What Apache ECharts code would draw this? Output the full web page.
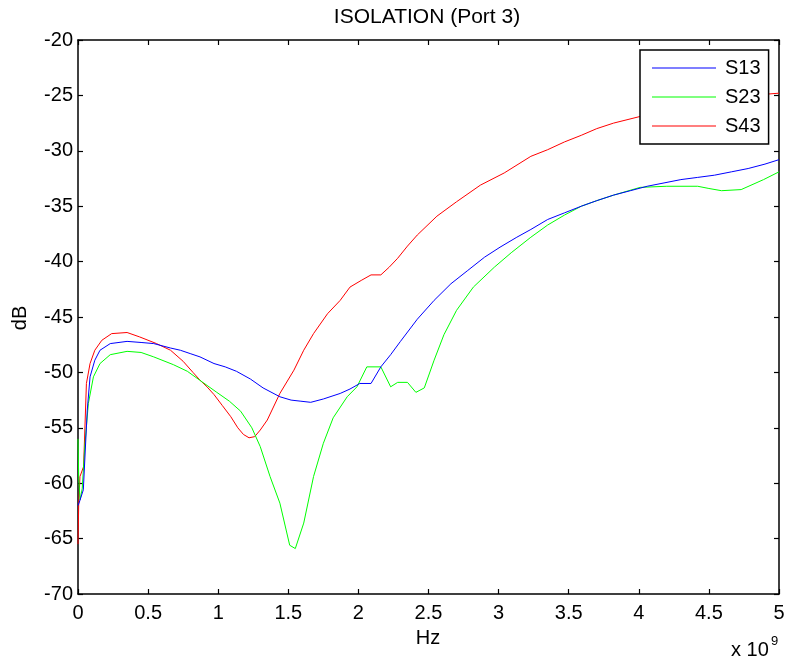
<!DOCTYPE html>
<html>
<head>
<meta charset="utf-8">
<script src="https://cdn.jsdelivr.net/npm/echarts@6/dist/echarts.min.js"></script>
<style>
html,body{margin:0;padding:0;background:#fff;}
#chart{width:791px;height:664px;}
</style>
</head>
<body>
<div id="chart"></div>
<script>
// Frequency in GHz (axis shows x 10^9 Hz), values in dB
const xTicks = [0, 0.5, 1, 1.5, 2, 2.5, 3, 3.5, 4, 4.5, 5];
const yTicks = [-70, -65, -60, -55, -50, -45, -40, -35, -30, -25, -20];

const fS13 = [0, 0.01, 0.038, 0.066, 0.086, 0.12, 0.157, 0.23, 0.35, 0.45, 0.54, 0.66, 0.73, 0.8, 0.87, 0.97, 1.05, 1.13, 1.23, 1.32, 1.44, 1.52, 1.59, 1.66, 1.75, 1.87, 1.94, 2.01, 2.09, 2.10, 2.16, 2.23, 2.3, 2.42, 2.54, 2.66, 2.78, 2.9, 3.01, 3.13, 3.23, 3.35, 3.47, 3.59, 3.7, 3.82, 3.94, 4.06, 4.18, 4.3, 4.42, 4.54, 4.66, 4.78, 4.9, 5.0];
const vS13 = [-62, -61.7, -60.6, -53.4, -50.4, -48.9, -48.0, -47.4, -47.2, -47.3, -47.4, -47.8, -48.0, -48.3, -48.6, -49.2, -49.5, -49.9, -50.6, -51.4, -52.2, -52.5, -52.6, -52.7, -52.4, -51.9, -51.5, -51.0, -51.0, -51.1, -49.5, -48.4, -47.2, -45.2, -43.5, -42.0, -40.8, -39.6, -38.7, -37.8, -37.1, -36.2, -35.6, -35.0, -34.5, -34.0, -33.6, -33.2, -32.9, -32.6, -32.4, -32.2, -31.9, -31.6, -31.2, -30.8];

const fS23 = [0, 0.005, 0.015, 0.03, 0.05, 0.074, 0.11, 0.157, 0.23, 0.35, 0.45, 0.54, 0.68, 0.78, 0.89, 0.99, 1.08, 1.16, 1.24, 1.3, 1.37, 1.44, 1.51, 1.55, 1.61, 1.68, 1.75, 1.82, 1.92, 1.99, 2.06, 2.16, 2.23, 2.28, 2.35, 2.41, 2.47, 2.54, 2.61, 2.7, 2.82, 2.97, 3.09, 3.23, 3.35, 3.47, 3.59, 3.7, 3.82, 4.01, 4.2, 4.42, 4.5, 4.59, 4.73, 4.89, 5.0];
const vS23 = [-56, -59.5, -61.5, -60.5, -56.4, -52.8, -50.4, -49.2, -48.4, -48.1, -48.2, -48.6, -49.3, -49.9, -50.9, -51.8, -52.6, -53.5, -55.0, -56.7, -59.4, -61.8, -65.6, -65.9, -63.6, -59.4, -56.4, -54.1, -52.2, -51.3, -49.5, -49.5, -51.3, -50.9, -50.9, -51.8, -51.4, -48.9, -46.6, -44.4, -42.3, -40.5, -39.2, -37.8, -36.7, -35.8, -35.0, -34.5, -34.0, -33.3, -33.2, -33.2, -33.4, -33.6, -33.5, -32.6, -31.9];

const fS43 = [0, 0.005, 0.014, 0.04, 0.06, 0.086, 0.12, 0.17, 0.24, 0.35, 0.44, 0.56, 0.66, 0.75, 0.82, 0.87, 0.92, 0.97, 1.03, 1.09, 1.14, 1.18, 1.22, 1.26, 1.3, 1.35, 1.44, 1.54, 1.61, 1.68, 1.78, 1.87, 1.94, 2.02, 2.09, 2.16, 2.22, 2.28, 2.35, 2.42, 2.56, 2.7, 2.87, 3.04, 3.23, 3.35, 3.47, 3.59, 3.7, 3.82, 4.01, 4.2, 4.5, 4.8, 5.0];
const vS43 = [-65.5, -62, -59.4, -58.5, -51.0, -49.2, -48.0, -47.1, -46.5, -46.4, -46.8, -47.4, -48.0, -49.0, -50.0, -50.7, -51.3, -52.0, -53.0, -54.0, -55.0, -55.6, -55.9, -55.8, -55.2, -54.3, -51.9, -49.8, -48.0, -46.5, -44.7, -43.5, -42.3, -41.7, -41.2, -41.2, -40.5, -39.7, -38.6, -37.6, -35.9, -34.6, -33.1, -32.0, -30.5, -29.9, -29.2, -28.6, -28.0, -27.5, -26.9, -26.3, -25.6, -25.0, -24.8];

const seriesNames = ['S13', 'S23', 'S43'];
const seriesColors = ['#0000ff', '#00ff00', '#ff0000'];
const titleText = 'ISOLATION (Port 3)';
const xName = 'Hz';
const yName = 'dB';

const zip = (a, b) => a.map((v, i) => [v, b[i]]);
const dataSets = [zip(fS13, vS13), zip(fS23, vS23), zip(fS43, vS43)];

const FONT = '"Liberation Sans", Arial, sans-serif';

function mkAxis(kind, pos, showLabel) {
  const isX = kind === 'x';
  const t = isX ? xTicks : yTicks;
  return {
    type: 'value',
    position: pos,
    min: t[0],
    max: t[t.length - 1],
    interval: isX ? 0.5 : 5,
    splitLine: { show: false },
    axisLine: { show: true, onZero: false, lineStyle: { color: '#000', width: 1.5 } },
    axisTick: { show: true, inside: true, length: 5, lineStyle: { color: '#000', width: 1.2 } },
    axisLabel: showLabel ? {
      show: true, margin: isX ? 9 : 5, color: '#000', fontSize: 20, fontFamily: FONT,
      showMinLabel: true, showMaxLabel: true, formatter: v => String(v)
    } : { show: false }
  };
}

const chart = echarts.init(document.getElementById('chart'), null, { renderer: 'canvas' });
chart.setOption({
  animation: false,
  backgroundColor: '#fff',
  grid: { left: 78, right: 12, top: 40, bottom: 70, containLabel: false },
  xAxis: [mkAxis('x', 'bottom', true), mkAxis('x', 'top', false)],
  yAxis: [mkAxis('y', 'left', true), mkAxis('y', 'right', false)],
  legend: {
    orient: 'vertical',
    left: 640,
    top: 50,
    data: seriesNames,
    icon: 'rect',
    itemWidth: 64,
    itemHeight: 1,
    itemGap: 9,
    padding: [8, 8, 8, 12],
    backgroundColor: '#fff',
    borderColor: '#000',
    borderWidth: 1.5,
    textStyle: { color: '#000', fontSize: 20, fontFamily: FONT, padding: [0, 0, 0, 4] }
  },
  graphic: [
    { type: 'text', x: 427, y: 17, style: { text: titleText, font: '21px ' + FONT, fill: '#000', align: 'center', verticalAlign: 'middle' } },
    { type: 'text', x: 428, y: 638, style: { text: xName, font: '20px ' + FONT, fill: '#000', align: 'center', verticalAlign: 'middle' } },
    { type: 'text', x: 20, y: 318, rotation: Math.PI / 2, style: { text: yName, font: '20px ' + FONT, fill: '#000', align: 'center', verticalAlign: 'middle' } },
    { type: 'text', x: 731, y: 650, style: { text: 'x 10', font: '20px ' + FONT, fill: '#000', align: 'left', verticalAlign: 'middle' } },
    { type: 'text', x: 771, y: 641, style: { text: '9', font: '13px ' + FONT, fill: '#000', align: 'left', verticalAlign: 'middle' } }
  ],
  series: seriesNames.map((n, i) => ({
    name: n,
    type: 'line',
    xAxisIndex: 0,
    yAxisIndex: 0,
    data: dataSets[i],
    showSymbol: false,
    symbol: 'none',
    color: seriesColors[i],
    lineStyle: { color: seriesColors[i], width: 1 },
    z: 2 + (seriesNames.length - i)
  }))
});
</script>
</body>
</html>
